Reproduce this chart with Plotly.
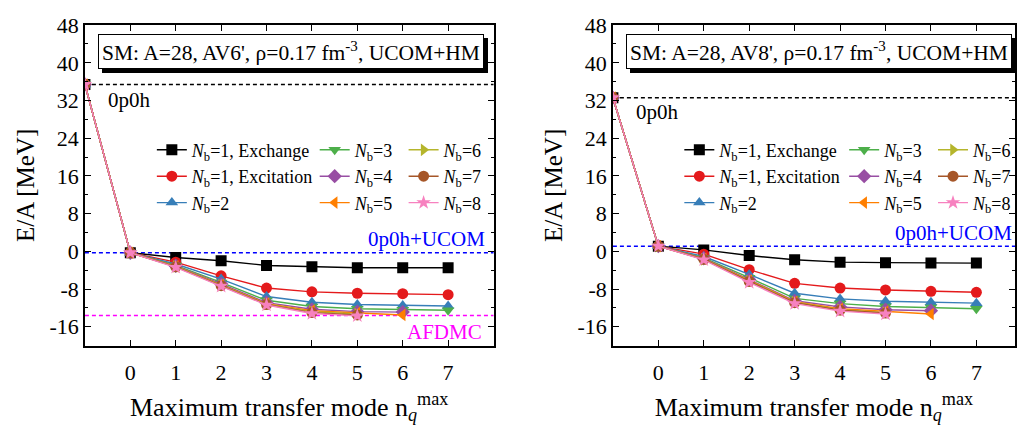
import plotly.graph_objects as go

# Transfer-mode axis (first point, at -1, is the bare 0p0h result)
x_modes = [-1, 0, 1, 2, 3, 4, 5, 6, 7]

series_names = [
    "<i>N</i><sub>b</sub>=1, Exchange",
    "<i>N</i><sub>b</sub>=1, Excitation",
    "<i>N</i><sub>b</sub>=2",
    "<i>N</i><sub>b</sub>=3",
    "<i>N</i><sub>b</sub>=4",
    "<i>N</i><sub>b</sub>=5",
    "<i>N</i><sub>b</sub>=6",
    "<i>N</i><sub>b</sub>=7",
    "<i>N</i><sub>b</sub>=8",
]
series_colors = ["#000000", "#e41a1c", "#377eb8", "#4daf4a", "#984ea3",
                 "#ff7f00", "#b5b52c", "#a65628", "#f781bf"]
series_symbols = ["square", "circle", "triangle-up", "triangle-down", "diamond",
                  "triangle-left", "triangle-right", "circle", "star"]

# AV6' energies per nucleon [MeV]
av6_exchange = [35.4, -0.3, -1.3, -2.0, -3.0, -3.3, -3.5, -3.5, -3.5]
av6_excitation = [35.4, -0.3, -2.3, -5.2, -7.8, -8.6, -8.9, -9.0, -9.2]
av6_nb2 = [35.4, -0.3, -2.7, -5.9, -9.6, -10.8, -11.3, -11.5, -11.6]
av6_nb3 = [35.4, -0.3, -3.0, -6.6, -10.4, -11.7, -12.2, -12.4, -12.5]
av6_nb4 = [35.4, -0.3, -3.1, -6.9, -10.9, -12.3, -12.8, -12.9]
av6_nb5 = [35.4, -0.3, -3.2, -7.1, -11.1, -12.6, -13.1, -13.5]
av6_nb6 = [35.4, -0.3, -3.2, -7.2, -11.2, -12.8, -13.3]
av6_nb7 = [35.4, -0.3, -3.3, -7.3, -11.3, -13.0, -13.5]
av6_nb8 = [35.4, -0.3, -3.4, -7.4, -11.4, -13.2, -13.7]

# AV8' energies per nucleon [MeV]
av8_exchange = [32.6, 1.1, 0.3, -0.9, -1.8, -2.3, -2.4, -2.5, -2.5]
av8_excitation = [32.6, 1.1, -0.6, -3.9, -6.8, -7.8, -8.2, -8.5, -8.7]
av8_nb2 = [32.6, 1.1, -1.1, -4.9, -8.9, -10.1, -10.6, -10.8, -11.0]
av8_nb3 = [32.6, 1.1, -1.4, -5.6, -10.0, -11.1, -11.7, -11.9, -12.2]
av8_nb4 = [32.6, 1.1, -1.5, -6.0, -10.5, -11.8, -12.4, -12.6]
av8_nb5 = [32.6, 1.1, -1.6, -6.2, -10.7, -12.2, -12.8, -13.3]
av8_nb6 = [32.6, 1.1, -1.7, -6.3, -10.8, -12.4, -13.0]
av8_nb7 = [32.6, 1.1, -1.7, -6.4, -10.9, -12.5, -13.1]
av8_nb8 = [32.6, 1.1, -1.8, -6.6, -11.1, -12.7, -13.3]

# Reference energies [MeV]
av6_0p0h, av6_ucom, av6_afdmc = 35.4, -0.3, -13.6
av8_0p0h, av8_ucom = 32.6, 1.1

panel_titles = ["SM: A=28, AV6', \u03c1=0.17 fm<sup>-3</sup>, UCOM+HM",
                "SM: A=28, AV8', \u03c1=0.17 fm<sup>-3</sup>, UCOM+HM"]
x_tick_vals = [0, 1, 2, 3, 4, 5, 6, 7]
y_tick_vals = [-16, -8, 0, 8, 16, 24, 32, 40, 48]

FONT = "Liberation Serif"
W, H = 1017, 436

av6_series = [av6_exchange, av6_excitation, av6_nb2, av6_nb3, av6_nb4,
              av6_nb5, av6_nb6, av6_nb7, av6_nb8]
av8_series = [av8_exchange, av8_excitation, av8_nb2, av8_nb3, av8_nb4,
              av8_nb5, av8_nb6, av8_nb7, av8_nb8]


def px(xp):
    return xp / W


def py(yp):
    return 1 - yp / H


fig = go.Figure()

left_legends = ["legend", "legend2", "legend3"]
right_legends = ["legend4", "legend5", "legend6"]

for panel, (series, xa, ya, legs) in enumerate([
        (av6_series, "x", "y", left_legends),
        (av8_series, "x2", "y2", right_legends)]):
    for i, ys in enumerate(series):
        fig.add_trace(go.Scatter(
            x=x_modes[:len(ys)], y=ys, xaxis=xa, yaxis=ya,
            mode="lines+markers", name=series_names[i],
            legend=legs[i // 3],
            line=dict(color=series_colors[i], width=1.4),
            marker=dict(symbol=series_symbols[i], size=11,
                        color=series_colors[i],
                        line=dict(width=0)),
        ))

axis_common = dict(
    showline=True, linecolor="black", linewidth=1.5, mirror="ticks",
    ticks="inside", ticklen=6, tickwidth=1.2, tickcolor="black",
    showgrid=False, zeroline=False,
    tickfont=dict(family=FONT, size=22, color="black"),
)

xdom_left = [px(85), px(494)]
xdom_right = [px(613.5), px(1016)]
ydom = [py(343), py(13.5)]

for xa, ya, dom, xr in [("xaxis", "yaxis", xdom_left, [-1, 8]),
                        ("xaxis2", "yaxis2", xdom_right, [-1, 7.85])]:
    anchor_y = "y" if ya == "yaxis" else "y2"
    anchor_x = "x" if xa == "xaxis" else "x2"
    fig.layout[xa] = dict(
        axis_common, domain=dom, range=xr, anchor=anchor_y,
        tickmode="array", tickvals=x_tick_vals,
        ticktext=[str(v) for v in x_tick_vals],
        ticklabelstandoff=6,
        title=dict(text="Maximum transfer mode n<sub><i>q</i></sub><sup>max</sup>",
                   font=dict(family=FONT, size=26, color="black"),
                   standoff=14),
    )
    fig.layout[ya] = dict(
        axis_common, domain=ydom, range=[-20, 48], anchor=anchor_x,
        tickmode="array", tickvals=y_tick_vals,
        ticktext=[str(v) for v in y_tick_vals],
        minor=dict(ticks="inside", dtick=4, tick0=0, ticklen=3,
                   tickcolor="black", tickwidth=1.2),
        title=dict(text="E/A [MeV]",
                   font=dict(family=FONT, size=25, color="black"),
                   standoff=8),
    )

# Dashed reference lines
ref_lines = [
    ("x", "y", av6_0p0h, "black"),
    ("x", "y", av6_ucom, "blue"),
    ("x", "y", av6_afdmc, "magenta"),
    ("x2", "y2", av8_0p0h, "black"),
    ("x2", "y2", av8_ucom, "blue"),
]
for xr_, yr_, yv, col in ref_lines:
    fig.add_shape(type="line", xref=f"{xr_} domain", yref=yr_,
                  x0=0, x1=1, y0=yv, y1=yv,
                  line=dict(color=col, width=1.5, dash="4px,3px"), layer="below")

# Title boxes with drop shadow
for cx, cy, txt in [(291.7, 40.5, panel_titles[0]), (820, 40.7, panel_titles[1])]:
    fig.add_annotation(x=px(cx), y=py(cy), xref="paper", yref="paper",
                       xanchor="center", yanchor="middle",
                       text=txt, showarrow=False,
                       font=dict(family=FONT, size=21.5, color="black"),
                       bgcolor="black", bordercolor="black", borderwidth=1,
                       borderpad=3, xshift=4, yshift=-4)
    fig.add_annotation(x=px(cx), y=py(cy), xref="paper", yref="paper",
                       xanchor="center", yanchor="middle",
                       text=txt, showarrow=False,
                       font=dict(family=FONT, size=21.5, color="black"),
                       bgcolor="white", bordercolor="black", borderwidth=1,
                       borderpad=3)

labels = [
    (106, 90, "0p0h", "black", "left"),
    (635, 103, "0p0h", "black", "left"),
    (487, 233, "0p0h+UCOM", "blue", "right"),
    (1015, 227, "0p0h+UCOM", "blue", "right"),
    (484, 329, "AFDMC", "magenta", "right"),
]
for xp, yp, txt, col, anc in labels:
    fig.add_annotation(x=px(xp), y=py(yp), xref="paper", yref="paper",
                       text=txt, showarrow=False, xanchor=anc, yanchor="middle",
                       font=dict(family=FONT, size=21, color=col))

# Three legend columns per panel
leg_x = [152, 315, 404, 680, 845, 934]
for name, xp in zip(left_legends + right_legends, leg_x):
    fig.layout[name] = dict(
        bgcolor="rgba(0,0,0,0)", borderwidth=0, itemwidth=30,
        font=dict(family=FONT, size=18, color="black"),
        xanchor="left", yanchor="top", tracegroupgap=0,
        x=px(xp), y=py(123))

fig.update_layout(
    width=W, height=H, margin=dict(l=0, r=0, t=0, b=0),
    paper_bgcolor="white", plot_bgcolor="white",
    font=dict(family=FONT, color="black"),
    showlegend=True,
)

fig.write_html("out.html")
